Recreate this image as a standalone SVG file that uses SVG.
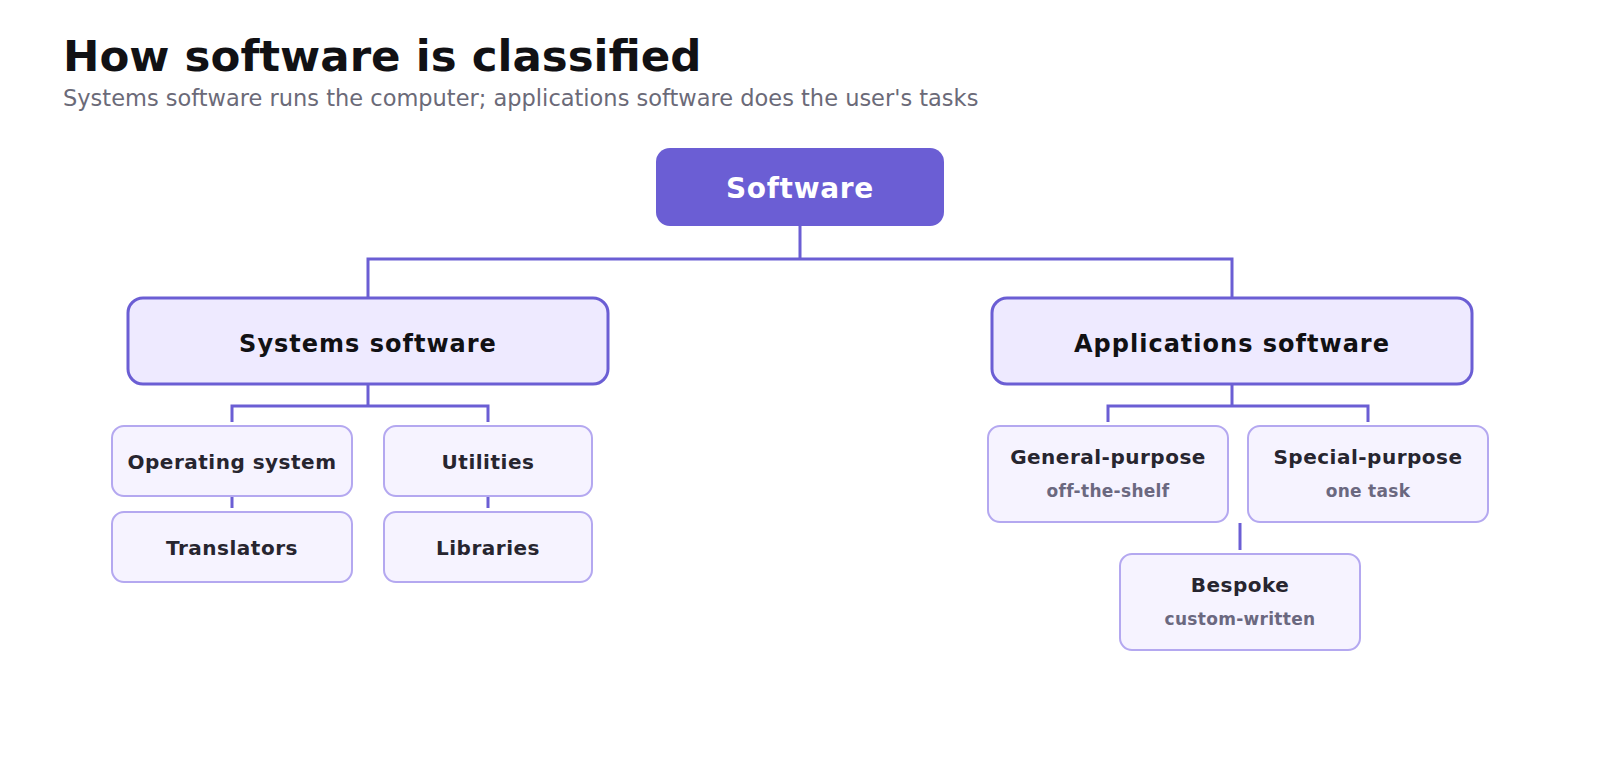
<svg xmlns="http://www.w3.org/2000/svg" width="1600" height="768" viewBox="0 0 1600 768">
<style>
.title{font-family:"DejaVu Sans",sans-serif;font-weight:700;font-size:43.5px;fill:#111114}
.sub{font-family:"DejaVu Sans",sans-serif;font-size:22.5px;fill:#6b6a78}
.root rect{fill:#6b5ed4}
.root text{font-family:"DejaVu Sans",sans-serif;font-weight:700;font-size:28px;letter-spacing:0.7px;fill:#ffffff;text-anchor:middle}
.l2 rect{fill:#eeeaff;stroke:#6b5ed4;stroke-width:3}
.l2 text{font-family:"DejaVu Sans",sans-serif;font-weight:700;font-size:24px;letter-spacing:1px;fill:#111114;text-anchor:middle}
.l3 rect{fill:#f6f3ff;stroke:#b4a8f0;stroke-width:2}
.l3 text{font-family:"DejaVu Sans",sans-serif;font-weight:700;font-size:20px;letter-spacing:0.5px;fill:#27252f;text-anchor:middle}
.l3 text.s{font-size:17px;letter-spacing:0.3px;fill:#6b6880}
.conn{fill:none;stroke:#6b5ed4;stroke-width:3}
</style>
<rect width="1600" height="768" fill="#ffffff"/>
<text class="title" x="63" y="71">How software is classified</text>
<text class="sub" x="63" y="106">Systems software runs the computer; applications software does the user's tasks</text>
<g id="connectors" class="conn">
<path d="M800 226 V259 M368 298 V259 H1232 V298"/>
<path d="M368 384 V406 M232 422 V406 H488 V422"/>
<path d="M232 497 V508 M488 497 V508"/>
<path d="M1232 384 V406 M1108 422 V406 H1368 V422"/>
<path d="M1240 523 V550"/>
</g>
<g id="software" class="root"><rect x="656" y="148" width="288" height="78" rx="14"/><text x="800" y="198">Software</text></g>
<g id="systems" class="l2"><rect x="128" y="298" width="480" height="86" rx="15"/><text x="368" y="352">Systems software</text></g>
<g id="applications" class="l2"><rect x="992" y="298" width="480" height="86" rx="15"/><text x="1232" y="352">Applications software</text></g>
<g id="os" class="l3"><rect x="112" y="426" width="240" height="70" rx="12"/><text x="232" y="469">Operating system</text></g>
<g id="utilities" class="l3"><rect x="384" y="426" width="208" height="70" rx="12"/><text x="488" y="469">Utilities</text></g>
<g id="translators" class="l3"><rect x="112" y="512" width="240" height="70" rx="12"/><text x="232" y="555">Translators</text></g>
<g id="libraries" class="l3"><rect x="384" y="512" width="208" height="70" rx="12"/><text x="488" y="555">Libraries</text></g>
<g id="general" class="l3"><rect x="988" y="426" width="240" height="96" rx="12"/><text x="1108" y="464">General-purpose</text><text class="s" x="1108" y="497">off-the-shelf</text></g>
<g id="special" class="l3"><rect x="1248" y="426" width="240" height="96" rx="12"/><text x="1368" y="464">Special-purpose</text><text class="s" x="1368" y="497">one task</text></g>
<g id="bespoke" class="l3"><rect x="1120" y="554" width="240" height="96" rx="12"/><text x="1240" y="592">Bespoke</text><text class="s" x="1240" y="625">custom-written</text></g>
</svg>
